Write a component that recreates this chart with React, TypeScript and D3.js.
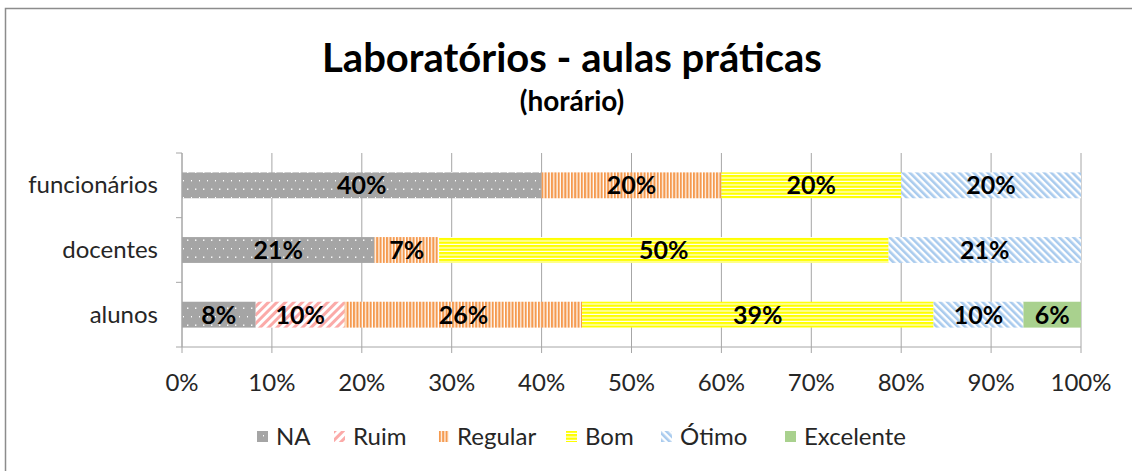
import React from "react";
import * as d3 from "d3";

const categories = ["funcionários", "docentes", "alunos"];
const seriesNames = ["NA", "Ruim", "Regular", "Bom", "Ótimo", "Excelente"];
const naValues = [40, 21.4, 8.2];
const ruimValues = [0, 0, 9.9];
const regularValues = [20, 7.2, 26.4];
const bomValues = [20, 50, 39.1];
const otimoValues = [20, 21.4, 10.0];
const excelenteValues = [0, 0, 6.4];
const xTicks = [0, 10, 20, 30, 40, 50, 60, 70, 80, 90, 100];

const seriesValues = [naValues, ruimValues, regularValues, bomValues, otimoValues, excelenteValues];
const fills = ["url(#pNA)", "url(#pRuim)", "url(#pRegular)", "url(#pBom)", "url(#pOtimo)", "#a9d18e"];
const legendMarkerX = [257, 334, 438, 566, 661, 785];

const FONT = "Lato, 'Open Sans', sans-serif";

export default function App() {
  const W = 1132, H = 471;
  const x = d3.scaleLinear().domain([0, 100]).range([182, 1081]);
  const y = d3.scaleBand<string>().domain(categories).range([153, 347]).paddingInner(0.6).paddingOuter(0.3);

  const rows = categories.map((c, ci) => {
    let acc = 0;
    return seriesValues.map((vals, si) => {
      const v = vals[ci];
      const x0 = acc;
      acc += v;
      return { c, si, v, x0, x1: acc };
    }).filter(d => d.v > 0);
  });

  const boundaries = d3.range(categories.length + 1).map(i => 153 + i * (194 / categories.length));

  return (
    <svg width={W} height={H} style={{ position: "absolute", left: 0, top: 0, background: "#fff" }}>
      <defs>
        <pattern id="pNA" patternUnits="userSpaceOnUse" width="8" height="17">
          <rect width="8" height="17" fill="#a5a5a5" />
          <rect x="3" y="1.5" width="1.4" height="1.4" fill="#fff" />
          <rect x="7" y="10" width="1.4" height="1.4" fill="#fff" />
        </pattern>
        <pattern id="pRuim" patternUnits="userSpaceOnUse" width="6" height="6" patternTransform="rotate(45)">
          <rect width="6" height="6" fill="#fff" />
          <rect width="3" height="6" fill="#fbaaa8" />
        </pattern>
        <pattern id="pRegular" patternUnits="userSpaceOnUse" width="3.3" height="4">
          <rect width="3.3" height="4" fill="#fff" />
          <rect width="2.1" height="4" fill="#f59a4f" />
        </pattern>
        <pattern id="pBom" patternUnits="userSpaceOnUse" width="4" height="3.5">
          <rect width="4" height="3.5" fill="#fff" />
          <rect width="4" height="2.4" fill="#ffff00" />
        </pattern>
        <pattern id="pOtimo" patternUnits="userSpaceOnUse" width="5" height="5" patternTransform="rotate(-45)">
          <rect width="5" height="5" fill="#fff" />
          <rect width="2.6" height="5" fill="#a9cbee" />
        </pattern>
      </defs>
      <rect x={5.5} y={8.5} width={W} height={H} fill="#fff" stroke="#8c8c8c" strokeWidth={1.5} />

      <text x={572} y={72} textAnchor="middle" fontFamily={FONT} fontWeight="bold" fontSize={40} fill="#000">Laboratórios - aulas práticas</text>
      <text x={572} y={111} textAnchor="middle" fontFamily={FONT} fontWeight="bold" fontSize={28} fill="#000">(horário)</text>

      {xTicks.map(t => (
        <g key={t}>
          <line x1={x(t)} x2={x(t)} y1={153} y2={353} stroke="#a6a6a6" strokeWidth={1} />
          <text x={x(t)} y={391} textAnchor="middle" fontFamily={FONT} fontSize={24} fill="#262626">{t}%</text>
        </g>
      ))}
      <line x1={182} x2={1081} y1={347} y2={347} stroke="#a6a6a6" />
      <line x1={182} x2={182} y1={153} y2={347} stroke="#a6a6a6" />
      {boundaries.map((b, i) => (
        <line key={i} x1={176} x2={182} y1={b} y2={b} stroke="#a6a6a6" />
      ))}

      {categories.map(c => (
        <text key={c} x={158} y={(y(c) as number) + y.bandwidth() / 2 + 8} textAnchor="end" fontFamily={FONT} fontSize={24} fill="#262626">{c}</text>
      ))}

      {rows.map((row, ri) => row.map(d => (
        <g key={ri + "-" + d.si}>
          <rect x={x(d.x0)} y={y(d.c)} width={x(d.x1) - x(d.x0)} height={y.bandwidth()} fill={fills[d.si]} />
          <text x={(x(d.x0) + x(d.x1)) / 2} y={(y(d.c) as number) + y.bandwidth() / 2 + 9} textAnchor="middle" fontFamily={FONT} fontWeight="bold" fontSize={25} fill="#000">{Math.round(d.v)}%</text>
        </g>
      )))}

      {seriesNames.map((s, i) => (
        <g key={s}>
          <rect x={legendMarkerX[i]} y={431} width={11} height={11} fill={fills[i]} />
          <text x={legendMarkerX[i] + 19} y={445} fontFamily={FONT} fontSize={24} fill="#262626">{s}</text>
        </g>
      ))}
    </svg>
  );
}
